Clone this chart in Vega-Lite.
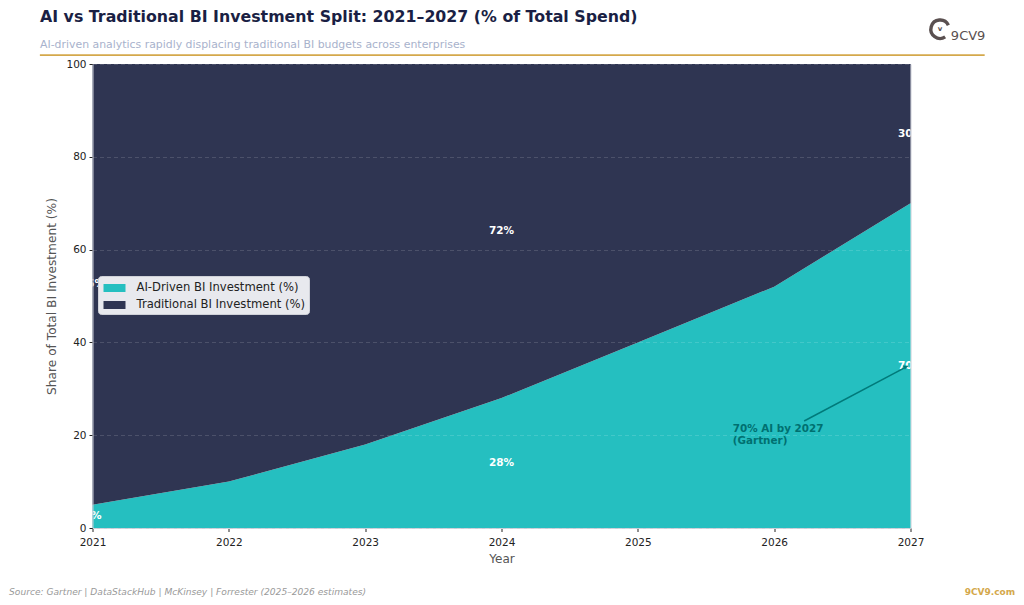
{
  "$schema": "https://vega.github.io/schema/vega-lite/v6.json",
  "autosize": "none",
  "padding": {"left": 92.5, "top": 64, "right": 113.5, "bottom": 77},
  "width": 818,
  "height": 464,
  "background": "white",
  "title": {
    "text": "AI vs Traditional BI Investment Split: 2021–2027 (% of Total Spend)",
    "subtitle": "AI-driven analytics rapidly displacing traditional BI budgets across enterprises",
    "anchor": "start",
    "frame": "group",
    "dx": -52.5,
    "offset": -38,
    "font": "DejaVu Sans",
    "fontSize": 15.8,
    "fontWeight": "bold",
    "color": "#1a1f44",
    "subtitleFont": "DejaVu Sans",
    "subtitleFontSize": 10.9,
    "subtitleColor": "#a8b2cc",
    "subtitlePadding": 14
  },
  "config": {
    "font": "DejaVu Sans",
    "view": {"stroke": "#c9ccd6", "strokeWidth": 1}
  },
  "datasets": {
    "share": [
      {"year": 2021, "series": "AI-Driven BI Investment (%)", "share": 5},
      {"year": 2022, "series": "AI-Driven BI Investment (%)", "share": 10},
      {"year": 2023, "series": "AI-Driven BI Investment (%)", "share": 18},
      {"year": 2024, "series": "AI-Driven BI Investment (%)", "share": 28},
      {"year": 2025, "series": "AI-Driven BI Investment (%)", "share": 40},
      {"year": 2026, "series": "AI-Driven BI Investment (%)", "share": 52},
      {"year": 2027, "series": "AI-Driven BI Investment (%)", "share": 70},
      {"year": 2021, "series": "Traditional BI Investment (%)", "share": 95},
      {"year": 2022, "series": "Traditional BI Investment (%)", "share": 90},
      {"year": 2023, "series": "Traditional BI Investment (%)", "share": 82},
      {"year": 2024, "series": "Traditional BI Investment (%)", "share": 72},
      {"year": 2025, "series": "Traditional BI Investment (%)", "share": 60},
      {"year": 2026, "series": "Traditional BI Investment (%)", "share": 48},
      {"year": 2027, "series": "Traditional BI Investment (%)", "share": 30}
    ],
    "labels": [
      {"year": 2021, "mid": 2.5, "label": "5%"},
      {"year": 2024, "mid": 14, "label": "28%"},
      {"year": 2027, "mid": 35, "label": "70%"},
      {"year": 2021, "mid": 52.5, "label": "95%"},
      {"year": 2024, "mid": 64, "label": "72%"},
      {"year": 2027, "mid": 85, "label": "30%"}
    ]
  },
  "data": {"name": "share"},
  "layer": [
    {
      "mark": {"type": "area", "opacity": 1, "interpolate": "linear"},
      "encoding": {
        "x": {
          "field": "year",
          "type": "quantitative",
          "scale": {"domain": [2021, 2027], "nice": false, "zero": false},
          "axis": {
            "title": "Year",
            "titleColor": "#555555",
            "titleFontSize": 12,
            "titleFontWeight": "normal",
            "titlePadding": 5,
            "format": "d",
            "values": [2021, 2022, 2023, 2024, 2025, 2026, 2027],
            "labelFontSize": 10.5,
            "labelColor": "#222222",
            "labelFlush": false,
            "labelPadding": 6,
            "tickColor": "#222222",
            "tickSize": 3.5,
            "domainColor": "#c9ccd6",
            "grid": false
          }
        },
        "y": {
          "field": "share",
          "type": "quantitative",
          "stack": "zero",
          "scale": {"domain": [0, 100], "nice": false},
          "axis": {
            "title": "Share of Total BI Investment (%)",
            "titleColor": "#555555",
            "titleFontSize": 12.2,
            "titleFontWeight": "normal",
            "titlePadding": 7,
            "values": [0, 20, 40, 60, 80, 100],
            "labelFontSize": 10.5,
            "labelColor": "#222222",
            "labelPadding": 3,
            "tickColor": "#222222",
            "tickSize": 3.5,
            "domainColor": "#c9ccd6",
            "grid": true,
            "gridColor": "#ffffff",
            "gridOpacity": 0.18,
            "gridDash": [4, 3],
            "gridWidth": 0.8,
            "zindex": 1
          }
        },
        "color": {
          "field": "series",
          "type": "nominal",
          "scale": {
            "domain": ["AI-Driven BI Investment (%)", "Traditional BI Investment (%)"],
            "range": ["#25bfc0", "#2f3552"]
          },
          "legend": {
            "title": null,
            "orient": "none",
            "legendX": 5.5,
            "legendY": 212,
            "fillColor": "#e8e9ee",
            "strokeColor": "#cfd1d8",
            "cornerRadius": 3,
            "padding": 3,
            "labelFontSize": 11.6,
            "labelColor": "#222222",
            "labelLimit": 300,
            "symbolType": "M-0.75,-0.46H1.79V0.46H-0.75Z",
            "symbolSize": 300,
            "symbolStrokeWidth": 0,
            "symbolOpacity": 1,
            "rowPadding": 2,
            "columnPadding": 0,
            "labelOffset": 17.5,
            "zindex": 2
          }
        },
        "order": {"field": "series", "type": "nominal", "sort": "ascending"}
      }
    },
    {
      "data": {"name": "labels"},
      "mark": {"type": "text", "clip": true, "color": "#ffffff", "fontWeight": "bold", "fontSize": 10.5, "align": "center", "baseline": "middle"},
      "encoding": {
        "x": {"field": "year", "type": "quantitative"},
        "y": {"field": "mid", "type": "quantitative"},
        "text": {"field": "label"}
      }
    },
    {
      "data": {"values": [{"year": 2026.22, "level": 23.06, "year2": 2026.98, "level2": 34.9}]},
      "mark": {"type": "rule", "color": "#007a7a", "strokeWidth": 1.5},
      "encoding": {
        "x": {"field": "year", "type": "quantitative"},
        "y": {"field": "level", "type": "quantitative"},
        "x2": {"field": "year2"},
        "y2": {"field": "level2"}
      }
    },
    {
      "data": {"values": [{"year": 2026.96, "level": 34.7}]},
      "mark": {"type": "point", "shape": "triangle", "angle": 62, "filled": true, "size": 22, "color": "#007a7a", "opacity": 1},
      "encoding": {
        "x": {"field": "year", "type": "quantitative"},
        "y": {"field": "level", "type": "quantitative"}
      }
    },
    {
      "data": {"values": [{"year": 2025.696, "level": 21.3, "note": "70% AI by 2027\n(Gartner)"}]},
      "mark": {"type": "text", "lineBreak": "\n", "align": "left", "baseline": "middle", "fontWeight": "bold", "fontSize": 10.4, "lineHeight": 12, "color": "#007070"},
      "encoding": {
        "x": {"field": "year", "type": "quantitative"},
        "y": {"field": "level", "type": "quantitative"},
        "text": {"field": "note"}
      }
    },
    {
      "data": {"values": [{"x1": 2020.614, "x2": 2027.544, "level": 101.9}]},
      "mark": {"type": "rule", "color": "#d4a84b", "strokeWidth": 1.8, "clip": false},
      "encoding": {
        "x": {"field": "x1", "type": "quantitative"},
        "x2": {"field": "x2"},
        "y": {"field": "level", "type": "quantitative"}
      }
    },
    {
      "data": {"values": [{"year": 2020.388, "level": -14.4, "note": "Source: Gartner | DataStackHub | McKinsey | Forrester (2025–2026 estimates)"}]},
      "mark": {"type": "text", "align": "left", "baseline": "alphabetic", "fontStyle": "italic", "fontSize": 9.1, "color": "#999999", "clip": false, "limit": 600},
      "encoding": {
        "x": {"field": "year", "type": "quantitative"},
        "y": {"field": "level", "type": "quantitative"},
        "text": {"field": "note"}
      }
    },
    {
      "data": {"values": [{"year": 2027.767, "level": -14.4, "note": "9CV9.com"}]},
      "mark": {"type": "text", "align": "right", "baseline": "alphabetic", "fontWeight": "bold", "fontSize": 9, "color": "#d4a84b", "clip": false},
      "encoding": {
        "x": {"field": "year", "type": "quantitative"},
        "y": {"field": "level", "type": "quantitative"},
        "text": {"field": "note"}
      }
    },
    {
      "data": {"values": [{"year": 2027.217, "level": 107.5}]},
      "mark": {"type": "point", "shape": "M0.9,-0.44A1,1 0 1 0 0.55,0.84", "filled": false, "size": 340, "stroke": "#5a5050", "strokeWidth": 3.4, "opacity": 1, "clip": false},
      "encoding": {
        "x": {"field": "year", "type": "quantitative"},
        "y": {"field": "level", "type": "quantitative"}
      }
    },
    {
      "data": {"values": [{"year": 2027.217, "level": 107.6, "note": "v"}]},
      "mark": {"type": "text", "align": "center", "baseline": "middle", "fontWeight": "bold", "fontSize": 7, "color": "#5a5050", "clip": false},
      "encoding": {
        "x": {"field": "year", "type": "quantitative"},
        "y": {"field": "level", "type": "quantitative"},
        "text": {"field": "note"}
      }
    },
    {
      "data": {"values": [{"year": 2027.296, "level": 105.2, "note": "9CV9"}]},
      "mark": {"type": "text", "align": "left", "baseline": "alphabetic", "fontSize": 13, "color": "#5a5050", "clip": false},
      "encoding": {
        "x": {"field": "year", "type": "quantitative"},
        "y": {"field": "level", "type": "quantitative"},
        "text": {"field": "note"}
      }
    }
  ]
}
